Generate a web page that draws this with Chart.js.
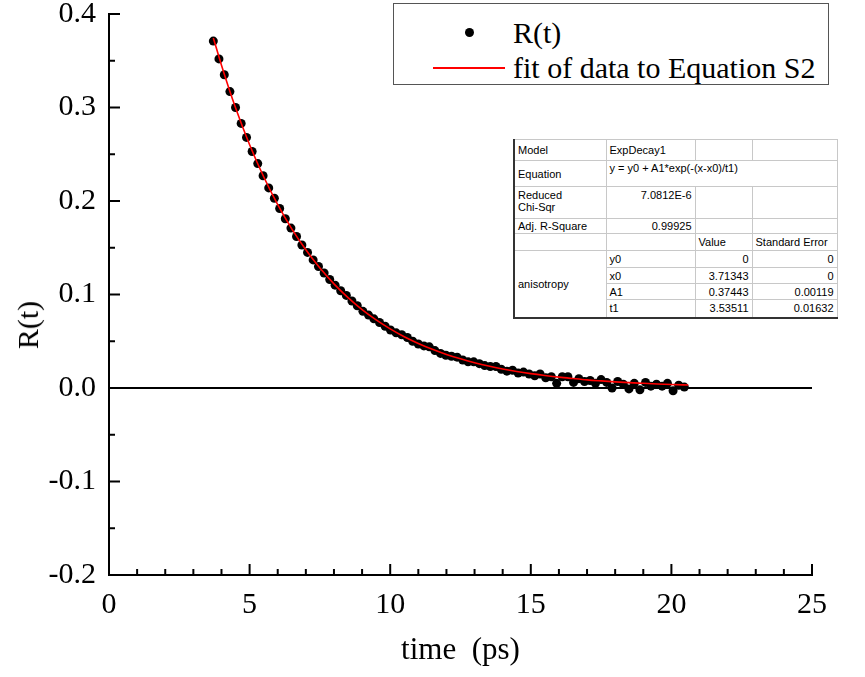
<!DOCTYPE html>
<html><head><meta charset="utf-8">
<script src="https://cdn.jsdelivr.net/npm/chart.js@4/dist/chart.umd.min.js"></script>
<style>
html,body{margin:0;padding:0;background:#fff;}
#wrap{position:relative;width:865px;height:677px;overflow:hidden;background:#fff;}
#c{position:absolute;left:0;top:0;}
.serif{font-family:"Liberation Serif","Times New Roman",serif;color:#000;}
#ytitle{position:absolute;left:28px;top:325px;transform:translate(-50%,-50%) rotate(-90deg);font-size:30px;white-space:nowrap;line-height:1;}
#legend{position:absolute;left:393px;top:3px;width:436px;height:82px;border:1px solid #555;box-sizing:border-box;background:#fff;}
.lgtext{position:absolute;left:119px;font-size:30px;white-space:nowrap;line-height:1;transform:translateY(-50%);}
#lgdot{position:absolute;left:71px;top:24px;width:9px;height:9px;border-radius:50%;background:#000;}
#lgline{position:absolute;left:39px;top:63px;width:72px;height:2px;background:#ff0000;}
#tbl{position:absolute;left:513px;top:139px;width:323px;height:178px;border-collapse:collapse;table-layout:fixed;
 font-family:"Liberation Sans",Arial,sans-serif;font-size:11px;color:#000;background:#fff;
 border-left:2px solid #333;border-bottom:2px solid #333;border-top:1px solid #888;border-right:1px solid #777;}
#tbl td{border:1px solid #c8c8c8;padding:0 3px;line-height:12px;vertical-align:middle;overflow:hidden;white-space:nowrap;}
#tbl td.r{text-align:right;}
#tbl td.t{vertical-align:top;padding-top:2px;}
#tbl td.nb{border-left-color:transparent;}
</style></head>
<body>
<div id="wrap">
<canvas id="c" width="865" height="677"></canvas>
<div id="ytitle" class="serif">R(t)</div>
<div id="legend" class="serif">
 <div id="lgdot"></div>
 <div class="lgtext" style="top:29px;">R(t)</div>
 <div id="lgline"></div>
 <div class="lgtext" style="top:64px;">fit of data to Equation S2</div>
</div>
<table id="tbl">
 <colgroup><col style="width:92px"><col style="width:89px"><col style="width:57px"><col style="width:85px"></colgroup>
 <tr style="height:21px"><td>Model</td><td>ExpDecay1</td><td></td><td></td></tr>
 <tr style="height:26px"><td>Equation</td><td colspan="3" class="t" style="padding-top:1px">y = y0 + A1*exp(-(x-x0)/t1)</td></tr>
 <tr style="height:32px"><td class="t">Reduced<br>Chi-Sqr</td><td class="r t">7.0812E-6</td><td></td><td></td></tr>
 <tr style="height:15px"><td>Adj. R-Square</td><td class="r">0.99925</td><td></td><td></td></tr>
 <tr style="height:17px"><td></td><td></td><td>Value</td><td>Standard Error</td></tr>
 <tr style="height:17px"><td rowspan="4">anisotropy</td><td>y0</td><td class="r">0</td><td class="r">0</td></tr>
 <tr style="height:16px"><td>x0</td><td class="r">3.71343</td><td class="r">0</td></tr>
 <tr style="height:16px"><td>A1</td><td class="r">0.37443</td><td class="r">0.00119</td></tr>
 <tr style="height:18px"><td>t1</td><td class="r">3.53511</td><td class="r">0.01632</td></tr>
</table>
</div>
<script>
// ---- data ----
const timeData = [3.71,3.91,4.10,4.30,4.50,4.70,4.89,5.09,5.29,5.48,
 5.68,5.88,6.07,6.27,6.47,6.67,6.86,7.06,7.26,7.45,
 7.65,7.85,8.04,8.24,8.44,8.64,8.83,9.03,9.23,9.42,
 9.62,9.82,10.01,10.21,10.41,10.61,10.80,11.00,11.20,11.39,
 11.59,11.79,11.98,12.18,12.38,12.58,12.77,12.97,13.17,13.36,
 13.56,13.76,13.95,14.15,14.35,14.55,14.74,14.94,15.14,15.33,
 15.53,15.73,15.92,16.12,16.32,16.52,16.71,16.91,17.11,17.30,
 17.50,17.70,17.89,18.09,18.29,18.49,18.68,18.88,19.08,19.27,
 19.47,19.67,19.86,20.06,20.26,20.46];
const rData = [0.371,0.352,0.335,0.317,0.300,0.283,0.268,0.253,0.240,0.227,
 0.214,0.203,0.192,0.181,0.171,0.162,0.153,0.145,0.137,0.130,
 0.123,0.116,0.110,0.104,0.099,0.093,0.088,0.082,0.078,0.074,
 0.070,0.066,0.062,0.059,0.057,0.054,0.050,0.047,0.045,0.044,
 0.040,0.037,0.035,0.034,0.033,0.030,0.028,0.028,0.026,0.024,
 0.023,0.023,0.020,0.018,0.019,0.016,0.017,0.015,0.013,0.015,
 0.011,0.012,0.005,0.012,0.012,0.006,0.010,0.007,0.008,0.005,
 0.009,0.006,0.000,0.007,0.004,-0.001,0.005,-0.002,0.006,0.002,
 0.004,0.002,0.005,-0.003,0.003,0.001];
const fitTime = [3.71,4.0,4.5,5.0,5.5,6.0,6.5,7.0,7.5,8.0,8.5,9.0,9.5,10.0,10.5,11.0,11.5,12.0,
 12.5,13.0,13.5,14.0,14.5,15.0,15.5,16.0,16.5,17.0,17.5,18.0,18.5,19.0,19.5,20.0,20.6];
const fitR = [0.3744,0.3453,0.2997,0.2602,0.2259,0.1961,0.1702,0.1478,0.1283,0.1114,0.0967,0.0839,
 0.0729,0.0633,0.0549,0.0477,0.0414,0.0359,0.0312,0.0271,0.0235,0.0204,0.0177,0.0154,0.0134,
 0.0116,0.0101,0.0087,0.0076,0.0066,0.0057,0.0050,0.0043,0.0037,0.0032];
const zeroTime = [0,25];
const zeroR = [0,0];
const xTickValues = [0,5,10,15,20,25];
const yTickValues = [-0.2,-0.1,0.0,0.1,0.2,0.3,0.4];
const xMinorStep = 1, yMinorStep = 0.05;

const serif = '"Liberation Serif","Times New Roman",serif';
const pts = (xs, ys) => xs.map((v,i)=>({x:v,y:ys[i]}));

const inTicks = {
  id:'inTicks',
  afterDraw(chart){
    const {ctx, chartArea:a, scales:{x,y}} = chart;
    ctx.save();
    ctx.strokeStyle='#000'; ctx.lineWidth=2;
    const line=(x1,y1,x2,y2)=>{ctx.beginPath();ctx.moveTo(x1,y1);ctx.lineTo(x2,y2);ctx.stroke();};
    const nx = Math.round((x.max-x.min)/xMinorStep);
    for(let k=0;k<=nx;k++){
      const v = x.min + k*xMinorStep;
      const px = x.getPixelForValue(v);
      const major = xTickValues.some(t=>Math.abs(t-v)<1e-9);
      line(px, a.bottom, px, a.bottom-(major?11:6));
    }
    const ny = Math.round((y.max-y.min)/yMinorStep);
    for(let k=0;k<=ny;k++){
      const v = y.min + k*yMinorStep;
      const py = y.getPixelForValue(v);
      const major = yTickValues.some(t=>Math.abs(t-v)<1e-9);
      line(a.left, py, a.left+(major?11:6), py);
    }
    ctx.restore();
  }
};

new Chart(document.getElementById('c'), {
  type:'scatter',
  data:{datasets:[
    {label:'fit of data to Equation S2', data:pts(fitTime,fitR), showLine:true, borderColor:'#ff0000', borderWidth:1.6,
     pointRadius:0, cubicInterpolationMode:'monotone', order:0},
    {label:'R(t)', data:pts(timeData,rData), showLine:false, backgroundColor:'#000', borderColor:'#000', borderWidth:0,
     pointRadius:4.5, order:1},
    {label:'zero', data:pts(zeroTime,zeroR), showLine:true, borderColor:'#000', borderWidth:2, pointRadius:0, order:2}
  ]},
  options:{
    responsive:false, animation:false, devicePixelRatio:1,
    layout:{padding:{top:14,right:53,left:0,bottom:0}},
    plugins:{legend:{display:false}, tooltip:{enabled:false}},
    scales:{
      x:{type:'linear', min:0, max:25,
        afterBuildTicks:s=>{s.ticks = xTickValues.map(v=>({value:v}));},
        afterFit:s=>{s.height=102; s.paddingLeft=0; s.paddingRight=0;},
        grid:{display:false, drawTicks:false, tickLength:0},
        border:{display:true, color:'#000', width:2},
        ticks:{color:'#000', font:{family:serif,size:30}, padding:12, maxRotation:0, autoSkip:false,
          callback:v=>String(v)},
        title:{display:true, text:'time  (ps)', color:'#000', font:{family:serif,size:31}, padding:{top:0,bottom:8}}
      },
      y:{type:'linear', min:-0.2, max:0.4,
        afterBuildTicks:s=>{s.ticks = yTickValues.map(v=>({value:v}));},
        afterFit:s=>{s.width=109; s.paddingTop=0; s.paddingBottom=0;},
        grid:{display:false, drawTicks:false, tickLength:0},
        border:{display:true, color:'#000', width:2},
        ticks:{color:'#000', font:{family:serif,size:30}, padding:13, autoSkip:false,
          callback:v=>Number(v).toFixed(1)}
      }
    }
  },
  plugins:[inTicks]
});
</script>
</body></html>
